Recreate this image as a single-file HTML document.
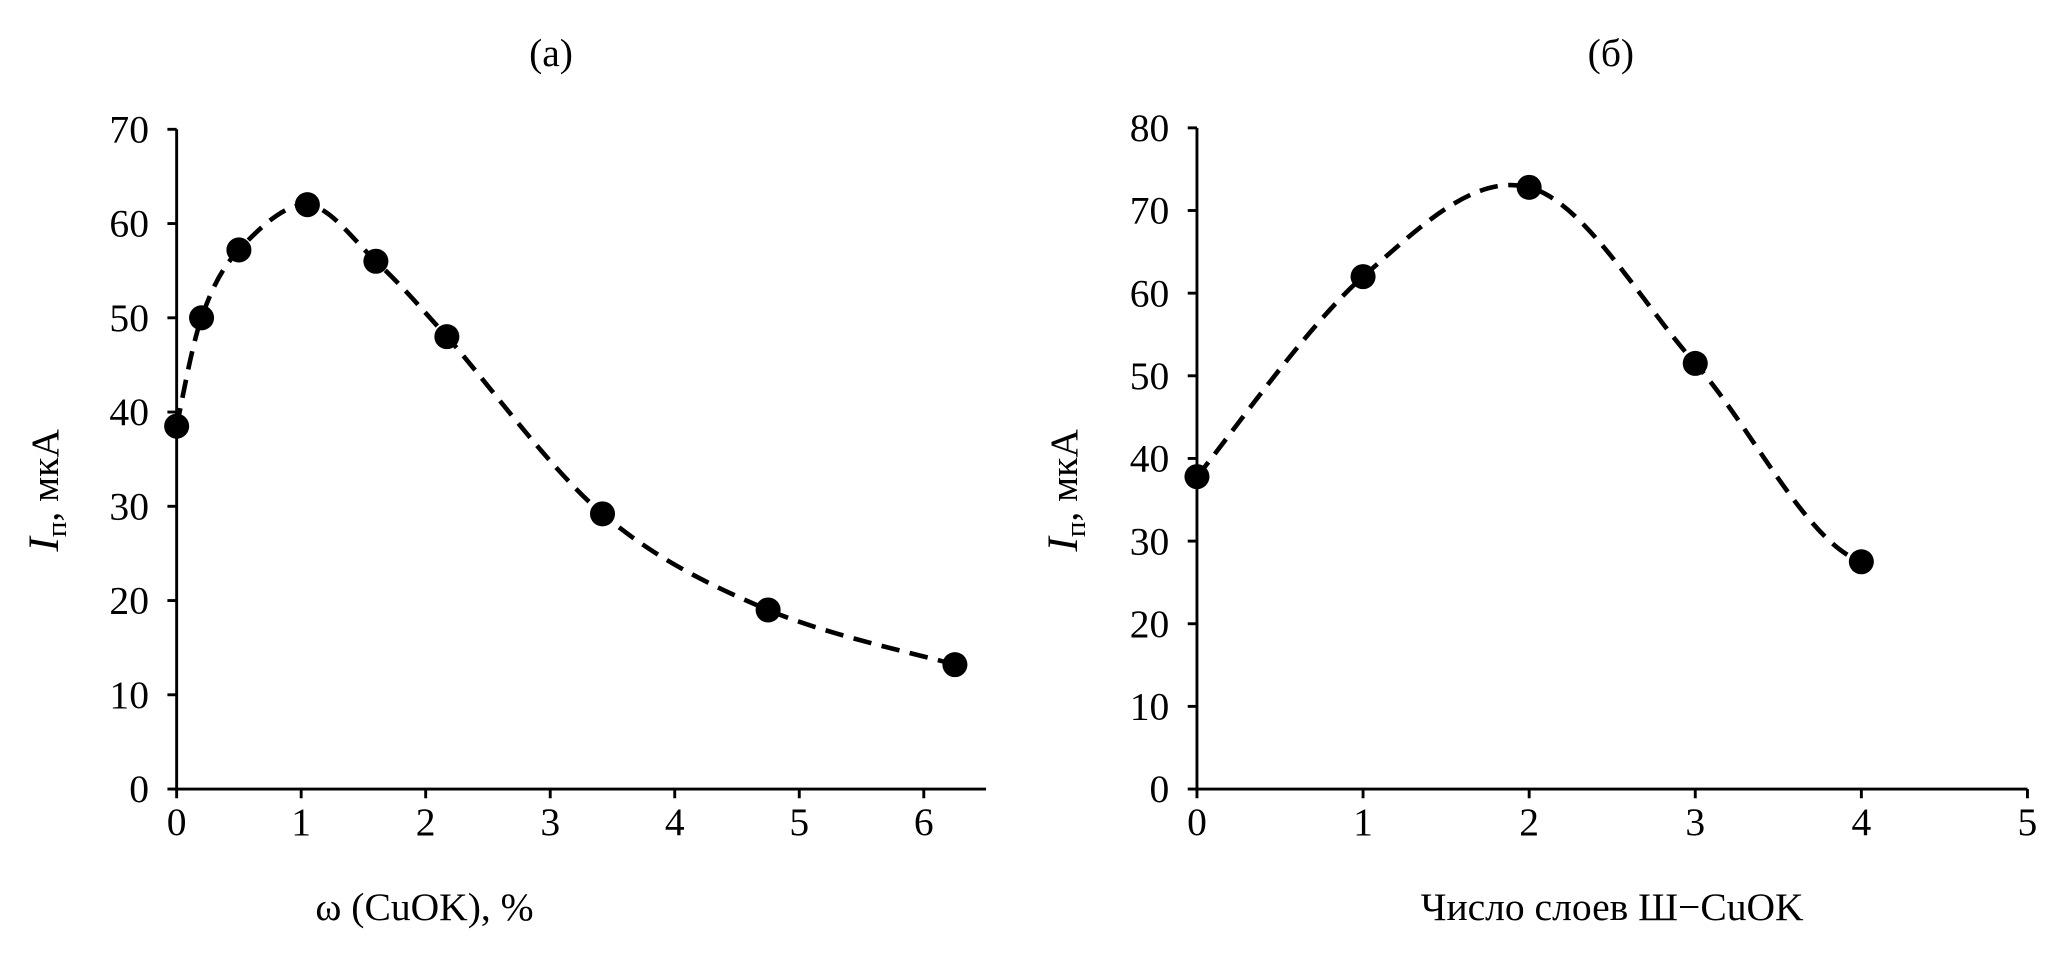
<!DOCTYPE html>
<html><head><meta charset="utf-8"><style>
html,body{margin:0;padding:0;background:#fff;}
svg{display:block;font-family:"Liberation Serif",serif;}
</style></head><body>
<svg id="root" width="2067" height="960" viewBox="0 0 1568 728.3" preserveAspectRatio="none" xmlns="http://www.w3.org/2000/svg">
<text x="418" y="50" font-size="30" text-anchor="middle">(а)</text>
<text x="1222" y="50" font-size="30" text-anchor="middle">(б)</text>
<text x="322" y="698" font-size="30" text-anchor="middle">ω (CuOK), %</text>
<text x="1223" y="698" font-size="30" text-anchor="middle">Число слоев Ш−CuOK</text>
<text transform="translate(44,372) rotate(-90)" font-size="30" text-anchor="middle"><tspan font-style="italic" font-size="33">I</tspan><tspan font-size="22" dy="6">п</tspan><tspan dy="-6">, мкА</tspan></text>
<text transform="translate(817,372) rotate(-90)" font-size="30" text-anchor="middle"><tspan font-style="italic" font-size="33">I</tspan><tspan font-size="22" dy="6">п</tspan><tspan dy="-6">, мкА</tspan></text>
<g id="ga"></g><g id="gb"></g>
</svg>
<script>
const aX=[0,0.2,0.5,1.05,1.6,2.17,3.42,4.75,6.25];
const aY=[38.5,50,57.2,62,56,48,29.2,19,13.2];
const aXTicks=[0,1,2,3,4,5,6];
const aYTicks=[0,10,20,30,40,50,60,70];
const bX=[0,1,2,3,4];
const bY=[37.8,62,72.8,51.5,27.5];
const bXTicks=[0,1,2,3,4,5];
const bYTicks=[0,10,20,30,40,50,60,70,80];
const NS="http://www.w3.org/2000/svg";
function mk(p,t,a){const e=document.createElementNS(NS,t);for(const k in a)e.setAttribute(k,a[k]);p.appendChild(e);return e;}
function smooth(pts,flatEnd){let d="M"+pts[0][0]+","+pts[0][1];const n=pts.length;
for(let i=0;i<n-1;i++){const p0=pts[i-1]||pts[i],p1=pts[i],p2=pts[i+1],p3=pts[i+2]||p2;
const c1=[p1[0]+(p2[0]-p0[0])/6,p1[1]+(p2[1]-p0[1])/6];
let c2=[p2[0]-(p3[0]-p1[0])/6,p2[1]-(p3[1]-p1[1])/6];
if(flatEnd&&i===n-2){c2=[p2[0]-(p2[0]-p1[0])/3,p2[1]-(p2[1]-p1[1])*0.1];}
d+=" C"+c1+" "+c2+" "+p2;}return d;}
function chart(g,cfg,xs,ys,xt,yt,tag){
const sx=v=>cfg.x0+(v-cfg.xmin)/(cfg.xmax-cfg.xmin)*(cfg.x1-cfg.x0);
const sy=v=>cfg.y0-(v-cfg.ymin)/(cfg.ymax-cfg.ymin)*(cfg.y0-cfg.y1);
const ya=mk(g,"line",{x1:cfg.x0,y1:cfg.y0,x2:cfg.x0,y2:cfg.y1,stroke:"#000","stroke-width":2.2});


const xa=mk(g,"line",{x1:cfg.x0,y1:cfg.y0,x2:cfg.x1,y2:cfg.y0,stroke:"#000","stroke-width":2.2});


yt.forEach(v=>{const y=sy(v);mk(g,"line",{x1:cfg.x0-7,y1:y,x2:cfg.x0,y2:y,stroke:"#000","stroke-width":2.2});
const t=mk(g,"text",{x:cfg.x0-21,y:y+10,"font-size":30,"text-anchor":"end"});t.textContent=v;

});
xt.forEach(v=>{const x=sx(v);mk(g,"line",{x1:x,y1:cfg.y0,x2:x,y2:cfg.y0+7,stroke:"#000","stroke-width":2.2});
const t=mk(g,"text",{x:x,y:cfg.y0+35,"font-size":30,"text-anchor":"middle"});t.textContent=v;

});
const pts=xs.map((v,i)=>[sx(v),sy(ys[i])]);
const p=mk(g,"path",{d:smooth(pts,cfg.flatEnd),fill:"none",stroke:"#000","stroke-width":3.5,"stroke-dasharray":"14 8"});


pts.forEach(q=>{const c=mk(g,"circle",{cx:q[0],cy:q[1],r:9.5,fill:"#000"});

});
}
chart(document.getElementById("ga"),{x0:134,x1:748,xmin:0,xmax:6.5,y0:598.6,y1:98.1,ymin:0,ymax:70},aX,aY,aXTicks,aYTicks,"a");
chart(document.getElementById("gb"),{x0:908,x1:1538,xmin:0,xmax:5,y0:598.6,y1:97,ymin:0,ymax:80,flatEnd:true},bX,bY,bXTicks,bYTicks,"b");
</script>
</body></html>
